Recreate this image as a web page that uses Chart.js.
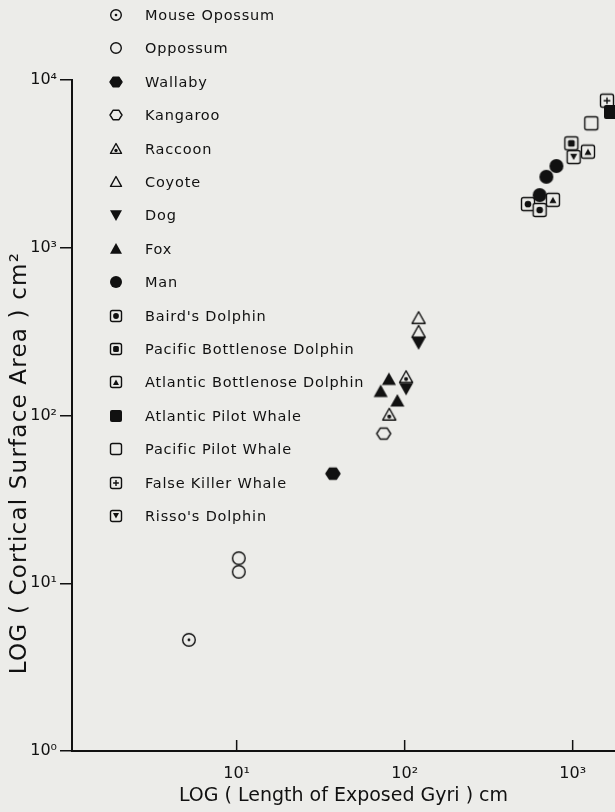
<!DOCTYPE html>
<html>
<head>
<meta charset="utf-8">
<script src="https://cdn.jsdelivr.net/npm/chart.js@4.4.1/dist/chart.umd.min.js"></script>
<style>
  html, body { margin: 0; padding: 0; background: #ecece9; }
  #wrap { position: relative; width: 615px; height: 812px; }
  #legend { position: absolute; left: 0; top: 0; font-family: "DejaVu Sans", sans-serif; font-size: 14.5px; color: #111; }
  .row { position: absolute; left: 108px; height: 22px; display: flex; align-items: center; white-space: nowrap; letter-spacing: 0.8px; }
  .row canvas { margin-right: 21px; }
  #ytitle { position: absolute; left: -232px; top: 450px; width: 500px; text-align: center;
            transform: rotate(-90deg); font-family: "DejaVu Sans", sans-serif; font-size: 23px; color: #111; letter-spacing: 1.2px; }
</style>
</head>
<body>
<div id="wrap">
  <canvas id="gyriChart" width="615" height="812"></canvas>
  <div id="legend"></div>
  <div id="ytitle">LOG ( Cortical Surface Area ) cm²</div>
</div>
<script>
// dados (escala log-log)
const species = ['Mouse Opossum', 'Oppossum', 'Wallaby', 'Kangaroo', 'Raccoon', 'Coyote', 'Dog', 'Fox', 'Man',
  "Baird's Dolphin", 'Pacific Bottlenose Dolphin', 'Atlantic Bottlenose Dolphin', 'Atlantic Pilot Whale',
  'Pacific Pilot Whale', 'False Killer Whale', "Risso's Dolphin"];
const gyriLength = [[5.2], [10.3, 10.3], [37.4], [75], [81, 102], [121, 121], [102, 121], [80.6, 72, 90.5],
  [800, 697, 636], [542, 636], [982], [763, 1233], [1690], [1291], [1600], [1014]];
const corticalArea = [[4.6], [14.1, 11.7], [45], [78], [101, 169], [380, 315], [145, 271], [164, 139, 122],
  [3070, 2650, 2060], [1820, 1680], [4190], [1930, 3740], [6450], [5520], [7530], [3475]];
const markerKinds = ['circleDot', 'circle', 'hexFill', 'hex', 'triDot', 'tri', 'triDown', 'triUp', 'disc',
  'squareDot', 'squareSquare', 'squareTri', 'squareFill', 'square', 'squarePlus', 'squareDown'];
const xTicks = [10, 100, 1000];
const yTicks = [1, 10, 100, 1000, 10000];

const INK = '#111';
const BG = '#ecece9';
const FONT = '"DejaVu Sans", sans-serif';
const SUP = { '0': '⁰', '1': '¹', '2': '²', '3': '³', '4': '⁴' };

function tickLabel(v) {
  const e = Math.round(Math.log10(v));
  return '10' + SUP[e];
}

// desenha cada símbolo num canvas pequeno
function makeMarker(kind, s) {
  const pad = 2, w = s + pad * 2;
  const c = document.createElement('canvas');
  c.width = w; c.height = w;
  const g = c.getContext('2d');
  const m = w / 2, r = s / 2;
  g.lineWidth = Math.max(1.4, s / 10);
  g.strokeStyle = INK; g.fillStyle = INK;
  g.lineJoin = 'round';

  function tri(cx, cy, rr, down) {
    g.beginPath();
    if (!down) {
      g.moveTo(cx, cy - rr); g.lineTo(cx + rr, cy + rr * 0.8); g.lineTo(cx - rr, cy + rr * 0.8);
    } else {
      g.moveTo(cx, cy + rr); g.lineTo(cx + rr, cy - rr * 0.8); g.lineTo(cx - rr, cy - rr * 0.8);
    }
    g.closePath();
  }
  function rrect(x, y, ww, hh, rad) {
    g.beginPath();
    g.moveTo(x + rad, y); g.lineTo(x + ww - rad, y); g.quadraticCurveTo(x + ww, y, x + ww, y + rad);
    g.lineTo(x + ww, y + hh - rad); g.quadraticCurveTo(x + ww, y + hh, x + ww - rad, y + hh);
    g.lineTo(x + rad, y + hh); g.quadraticCurveTo(x, y + hh, x, y + hh - rad);
    g.lineTo(x, y + rad); g.quadraticCurveTo(x, y, x + rad, y);
    g.closePath();
  }
  function hex() {
    g.beginPath();
    for (let k = 0; k < 6; k++) {
      const a = k * Math.PI / 3;
      g.lineTo(m + r * Math.cos(a), m + r * 0.9 * Math.sin(a));
    }
    g.closePath();
  }

  if (kind === 'circle' || kind === 'circleDot') {
    g.beginPath(); g.arc(m, m, r - 0.7, 0, Math.PI * 2);
    g.fillStyle = BG; g.fill(); g.stroke();
    if (kind === 'circleDot') {
      g.fillStyle = INK; g.beginPath(); g.arc(m, m, Math.max(1.3, r * 0.2), 0, Math.PI * 2); g.fill();
    }
  } else if (kind === 'disc') {
    g.beginPath(); g.arc(m, m, r, 0, Math.PI * 2); g.fill();
  } else if (kind === 'hexFill') {
    hex(); g.fill(); g.stroke();
  } else if (kind === 'hex') {
    hex(); g.fillStyle = BG; g.fill(); g.stroke();
  } else if (kind === 'tri' || kind === 'triDot') {
    tri(m, m, r - 0.5, false); g.fillStyle = BG; g.fill(); g.stroke();
    if (kind === 'triDot') {
      g.fillStyle = INK; g.beginPath(); g.arc(m, m + r * 0.25, Math.max(1.4, r * 0.28), 0, Math.PI * 2); g.fill();
    }
  } else if (kind === 'triUp') {
    tri(m, m, r, false); g.fill();
  } else if (kind === 'triDown') {
    tri(m, m, r, true); g.fill();
  } else if (kind === 'squareFill') {
    rrect(m - r, m - r, s, s, 2); g.fill();
  } else {
    rrect(m - r + 0.5, m - r + 0.5, s - 1, s - 1, 2);
    g.fillStyle = BG; g.fill(); g.stroke();
    g.fillStyle = INK;
    const q = r * 0.48;
    if (kind === 'squareDot') {
      g.beginPath(); g.arc(m, m, q, 0, Math.PI * 2); g.fill();
    } else if (kind === 'squareSquare') {
      rrect(m - q, m - q, q * 2, q * 2, 1.5); g.fill();
    } else if (kind === 'squareTri') {
      tri(m, m + 0.5, q * 1.05, false); g.fill();
    } else if (kind === 'squareDown') {
      tri(m, m - 0.5, q * 1.05, true); g.fill();
    } else if (kind === 'squarePlus') {
      g.beginPath(); g.moveTo(m - q, m); g.lineTo(m + q, m); g.moveTo(m, m - q); g.lineTo(m, m + q); g.stroke();
    }
  }
  return c;
}

// marcas internas no eixo x
const innerTicks = {
  id: 'innerTicks',
  afterDraw(chart) {
    const s = chart.scales.x, g = chart.ctx, b = chart.chartArea.bottom;
    g.save();
    g.strokeStyle = INK; g.lineWidth = 1.5;
    s.ticks.forEach(t => {
      const px = s.getPixelForValue(t.value);
      g.beginPath(); g.moveTo(px, b); g.lineTo(px, b - 11); g.stroke();
    });
    g.restore();
  }
};

const datasets = species.map((name, i) => ({
  label: name,
  data: gyriLength[i].map((x, j) => ({ x: x, y: corticalArea[i][j] })),
  pointStyle: makeMarker(markerKinds[i], 14),
  pointRadius: 7,
  pointHoverRadius: 7,
  showLine: false,
  order: i
}));

const ctx = document.getElementById('gyriChart').getContext('2d');
const gyriChart = new Chart(ctx, {
  type: 'scatter',
  data: { datasets: datasets },
  plugins: [innerTicks],
  options: {
    responsive: false,
    animation: false,
    layout: { autoPadding: false, padding: { top: 80, right: 0, left: 0, bottom: 0 } },
    plugins: { legend: { display: false }, tooltip: { enabled: false } },
    scales: {
      x: {
        type: 'logarithmic',
        min: Math.pow(10, 0.02),
        max: Math.pow(10, 3.252),
        afterBuildTicks: s => { s.ticks = xTicks.map(v => ({ value: v })); },
        afterFit: s => { s.height = 61; s.paddingLeft = 0; s.paddingRight = 0; },
        ticks: { callback: v => tickLabel(v), color: INK, font: { family: FONT, size: 16 }, padding: 5, maxRotation: 0, autoSkip: false },
        grid: { display: false },
        border: { display: true, color: INK, width: 2 },
        title: { display: true, text: 'LOG ( Length of Exposed Gyri ) cm', color: INK,
                 font: { family: FONT, size: 19 }, padding: { top: 0, bottom: 5 } }
      },
      y: {
        type: 'logarithmic',
        min: 1,
        max: 10000,
        afterBuildTicks: s => { s.ticks = yTicks.map(v => ({ value: v })); },
        afterFit: s => { s.width = 72; s.paddingTop = 0; s.paddingBottom = 0; },
        ticks: { callback: v => tickLabel(v), color: INK, font: { family: FONT, size: 16 }, padding: 3, autoSkip: false },
        grid: { display: true, drawOnChartArea: false, drawTicks: true, tickLength: 12, color: INK, lineWidth: 1.5 },
        border: { display: true, color: INK, width: 2 }
      }
    }
  }
});

// legenda em HTML, montada a partir dos datasets
const legend = document.getElementById('legend');
species.forEach((name, i) => {
  const row = document.createElement('div');
  row.className = 'row';
  row.style.top = (4 + i * 33.4) + 'px';
  row.appendChild(makeMarker(markerKinds[i], 12));
  const span = document.createElement('span');
  span.textContent = name;
  row.appendChild(span);
  legend.appendChild(row);
});
</script>
</body>
</html>
